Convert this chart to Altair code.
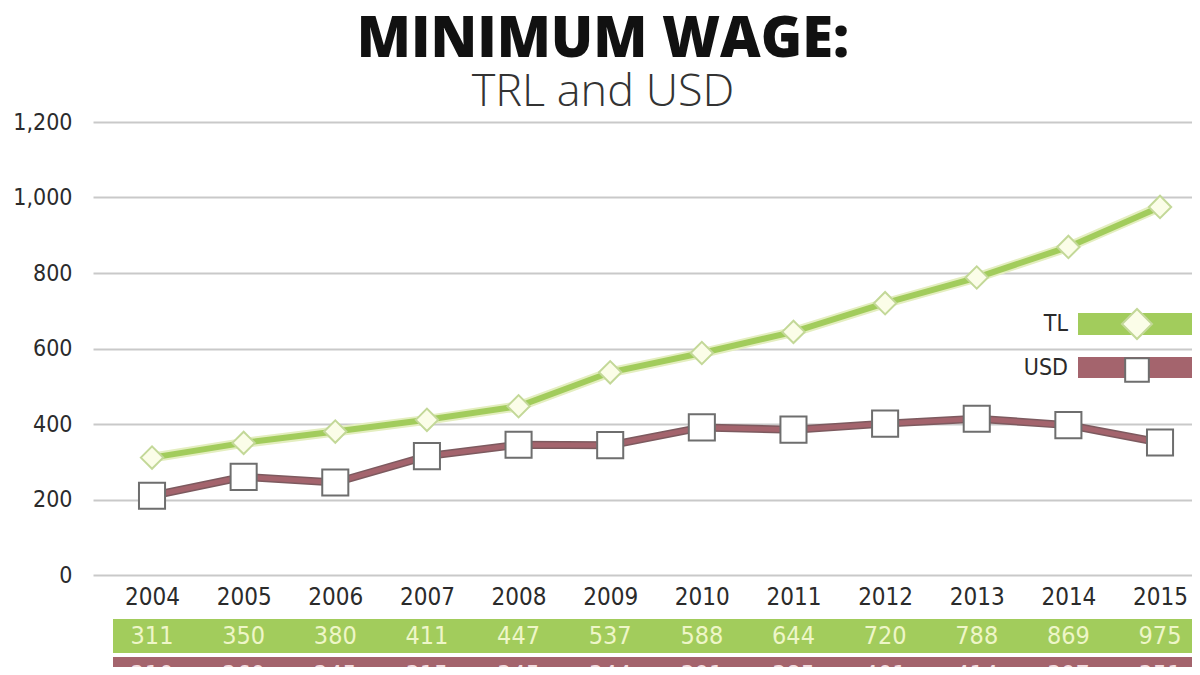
import altair as alt
import pandas as pd

years = [2004, 2005, 2006, 2007, 2008, 2009, 2010, 2011, 2012, 2013, 2014, 2015]
tl_values = [311, 350, 380, 411, 447, 537, 588, 644, 720, 788, 869, 975]
usd_values = [210, 260, 245, 315, 345, 344, 391, 385, 401, 414, 397, 351]
y_ticks = [0, 200, 400, 600, 800, 1000, 1200]

GREEN = "#a2cc5c"
GREEN_EDGE = "#e4eec0"
MAUVE = "#a4646d"
MAUVE_EDGE = "#7d5a5f"
NUM_FONT = "DejaVu Sans Condensed"

tl = pd.DataFrame({"year": years, "value": tl_values, "series": "TL"})
usd = pd.DataFrame({"year": years, "value": usd_values, "series": "USD"})

W, H = 1099, 453

x = alt.X("year:Q",
          scale=alt.Scale(domain=[2003.356, 2015.349], nice=False, zero=False),
          axis=alt.Axis(values=years, format="d", title=None, grid=False, domain=False,
                        ticks=False, labelFont=NUM_FONT, labelFontSize=24,
                        labelColor="#2b2b2b", labelPadding=10))
y = alt.Y("value:Q",
          scale=alt.Scale(domain=[0, 1200], nice=False),
          axis=alt.Axis(values=y_ticks, format=",d", title=None, grid=True,
                        gridColor="#c9c9c9", gridWidth=2, domain=False, ticks=False,
                        labelFont=NUM_FONT, labelFontSize=23, labelColor="#2b2b2b",
                        labelPadding=21, labelLimit=200))

base_tl = alt.Chart(tl)
base_usd = alt.Chart(usd)

tl_edge = base_tl.mark_line(color=GREEN_EDGE, strokeWidth=10).encode(x=x, y=y)
tl_line = base_tl.mark_line(color=GREEN, strokeWidth=6).encode(x=x, y=y)
tl_pts = base_tl.mark_point(shape="diamond", size=500, filled=True, fill="#fbfde8",
                            stroke="#c3d898", strokeWidth=2, opacity=1).encode(x=x, y=y)

usd_edge = base_usd.mark_line(color=MAUVE_EDGE, strokeWidth=8).encode(x=x, y=y)
usd_line = base_usd.mark_line(color=MAUVE, strokeWidth=5).encode(x=x, y=y)
usd_pts = base_usd.mark_point(shape="square", size=680, filled=True, fill="white",
                              stroke="#6e6e6e", strokeWidth=2, opacity=1).encode(x=x, y=y)

one = pd.DataFrame({"k": [0]})

title = alt.Chart(one).mark_text(text="MINIMUM WAGE:", font="Open Sans", fontWeight=800,
                                 fontSize=56, color="#111111", align="center",
                                 baseline="alphabetic").encode(x=alt.value(510), y=alt.value(-65))
subtitle = alt.Chart(one).mark_text(text="TRL and USD", font="Open Sans", fontWeight=300,
                                    fontSize=45, color="#333333", align="center",
                                    baseline="alphabetic").encode(x=alt.value(510), y=alt.value(-16))

# legend
leg_tl_bar = alt.Chart(one).mark_rect(color=GREEN).encode(
    x=alt.value(985), x2=alt.value(1099), y=alt.value(191), y2=alt.value(213))
leg_tl_sym = alt.Chart(one).mark_point(shape="diamond", size=900, filled=True, fill="#fbfde8",
                                       stroke="#c3d898", strokeWidth=2, opacity=1).encode(
    x=alt.value(1044), y=alt.value(202))
leg_tl_txt = alt.Chart(one).mark_text(text="TL", font=NUM_FONT, fontSize=23, color="#2b2b2b",
                                      align="right", baseline="middle").encode(
    x=alt.value(975), y=alt.value(202))
leg_usd_bar = alt.Chart(one).mark_rect(color=MAUVE).encode(
    x=alt.value(985), x2=alt.value(1099), y=alt.value(235), y2=alt.value(256))
leg_usd_sym = alt.Chart(one).mark_point(shape="square", size=560, filled=True, fill="white",
                                        stroke="#6e6e6e", strokeWidth=2, opacity=1).encode(
    x=alt.value(1044), y=alt.value(248))
leg_usd_txt = alt.Chart(one).mark_text(text="USD", font=NUM_FONT, fontSize=23, color="#2b2b2b",
                                       align="right", baseline="middle").encode(
    x=alt.value(975), y=alt.value(246))

# data table rows
row_tl = alt.Chart(one).mark_rect(color=GREEN).encode(
    x=alt.value(20), x2=alt.value(1099), y=alt.value(497), y2=alt.value(531))
row_tl_txt = base_tl.mark_text(font=NUM_FONT, fontSize=25, color="#eef6c8",
                               baseline="middle").encode(x=x, y=alt.value(514),
                                                         text=alt.Text("value:Q", format="d"))
row_usd = alt.Chart(one).mark_rect(color=MAUVE).encode(
    x=alt.value(20), x2=alt.value(1099), y=alt.value(535), y2=alt.value(575))
row_usd_txt = base_usd.mark_text(font=NUM_FONT, fontSize=25, color="#f3dde0",
                                 baseline="middle").encode(x=x, y=alt.value(553),
                                                           text=alt.Text("value:Q", format="d"))

chart = alt.layer(
    usd_edge, usd_line, tl_edge, tl_line, usd_pts, tl_pts,
    title, subtitle,
    leg_tl_bar, leg_tl_sym, leg_tl_txt, leg_usd_bar, leg_usd_sym, leg_usd_txt,
    row_tl, row_tl_txt, row_usd, row_usd_txt,
).properties(
    width=W, height=H,
    autosize=alt.AutoSizeParams(type="none"),
    padding={"left": 85, "right": 0, "top": 114, "bottom": 92},
    background="white",
).configure_view(stroke=None)

chart.save("out.html", embed_options={"renderer": "svg", "actions": False})
